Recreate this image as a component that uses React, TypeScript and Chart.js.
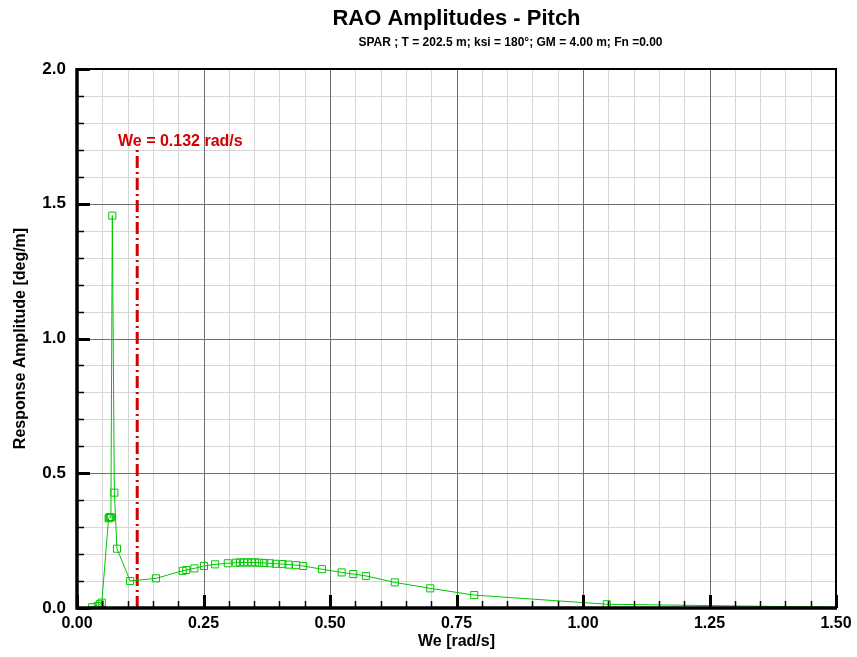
import React, { useEffect, useRef } from "react";
import { Chart, registerables } from "chart.js";

Chart.register(...registerables);

const FONT = '"Liberation Sans", Arial, Helvetica, sans-serif';

const titleText = "RAO Amplitudes - Pitch";
const subtitleText = "SPAR ; T = 202.5 m; ksi = 180°; GM = 4.00 m; Fn =0.00";
const xAxisTitle = "We [rad/s]";
const yAxisTitle = "Response Amplitude [deg/m]";

// Encounter frequency [rad/s]
const omega = [
  0.030, 0.041, 0.045, 0.049, 0.0625, 0.064, 0.0655, 0.067, 0.0698, 0.0738,
  0.079, 0.105, 0.156, 0.209, 0.216, 0.232, 0.251, 0.273, 0.298, 0.314,
  0.322, 0.330, 0.337, 0.345, 0.352, 0.360, 0.370, 0.381, 0.393, 0.406,
  0.418, 0.433, 0.447, 0.484, 0.523, 0.546, 0.571, 0.628, 0.698, 0.785,
  1.047, 1.571,
];
// Pitch RAO amplitude [deg/m]
const amplitude = [
  0.003, 0.007, 0.014, 0.020, 0.333, 0.336, 0.337, 0.336, 1.456, 0.428,
  0.220, 0.100, 0.110, 0.138, 0.141, 0.147, 0.156, 0.162, 0.166, 0.168,
  0.169, 0.169, 0.169, 0.169, 0.169, 0.168, 0.167, 0.166, 0.164, 0.163,
  0.161, 0.159, 0.156, 0.144, 0.132, 0.126, 0.119, 0.095, 0.073, 0.048,
  0.014, 0.001,
];

const xMajorTicks = [0, 0.25, 0.5, 0.75, 1.0, 1.25, 1.5];
const yMajorTicks = [0, 0.5, 1.0, 1.5, 2.0];
const xMinorStep = 0.05;
const yMinorStep = 0.1;

const markerLineX = 0.119;
const markerLineTop = 1.71;
const markerText = "We = 0.132 rad/s";
const markerTextX = 0.081;
const markerTextY = 1.73;

const X_MIN = 0, X_MAX = 1.5, Y_MIN = 0, Y_MAX = 2.0;

function minorValues(min: number, max: number, step: number, majors: number[]) {
  const out: number[] = [];
  const n = Math.round((max - min) / step);
  for (let i = 1; i < n; i++) {
    const v = +(min + i * step).toFixed(4);
    if (!majors.some((m) => Math.abs(m - v) < 1e-6)) out.push(v);
  }
  return out;
}

const framePlugin = {
  id: "raoFrame",
  beforeDatasetsDraw(chart: any) {
    const { ctx, chartArea: a, scales } = chart;
    const xs = scales.x, ys = scales.y;
    ctx.save();
    ctx.lineWidth = 1;
    ctx.strokeStyle = "#d6d6d6";
    ctx.beginPath();
    for (const v of minorValues(X_MIN, X_MAX, xMinorStep, xMajorTicks)) {
      const p = Math.round(xs.getPixelForValue(v)) + 0.5;
      ctx.moveTo(p, a.top); ctx.lineTo(p, a.bottom);
    }
    for (const v of minorValues(Y_MIN, Y_MAX, yMinorStep, yMajorTicks)) {
      const p = Math.round(ys.getPixelForValue(v)) + 0.5;
      ctx.moveTo(a.left, p); ctx.lineTo(a.right, p);
    }
    ctx.stroke();
    ctx.strokeStyle = "#6e6e6e";
    ctx.beginPath();
    for (const v of xMajorTicks) {
      const p = Math.round(xs.getPixelForValue(v)) + 0.5;
      ctx.moveTo(p, a.top); ctx.lineTo(p, a.bottom);
    }
    for (const v of yMajorTicks) {
      const p = Math.round(ys.getPixelForValue(v)) + 0.5;
      ctx.moveTo(a.left, p); ctx.lineTo(a.right, p);
    }
    ctx.stroke();
    ctx.restore();
  },
  afterDatasetsDraw(chart: any) {
    const { ctx, chartArea: a, scales } = chart;
    const xs = scales.x, ys = scales.y;
    ctx.save();
    // inward ticks
    ctx.strokeStyle = "#000";
    ctx.lineWidth = 1.5;
    ctx.beginPath();
    for (const v of minorValues(X_MIN, X_MAX, xMinorStep, xMajorTicks)) {
      const p = Math.round(xs.getPixelForValue(v)) + 0.5;
      ctx.moveTo(p, a.bottom); ctx.lineTo(p, a.bottom - 7);
    }
    for (const v of minorValues(Y_MIN, Y_MAX, yMinorStep, yMajorTicks)) {
      const p = Math.round(ys.getPixelForValue(v)) + 0.5;
      ctx.moveTo(a.left, p); ctx.lineTo(a.left + 7, p);
    }
    ctx.stroke();
    ctx.lineWidth = 3;
    ctx.beginPath();
    for (const v of xMajorTicks) {
      const p = Math.round(xs.getPixelForValue(v)) + 0.5;
      ctx.moveTo(p, a.bottom); ctx.lineTo(p, a.bottom - 13);
    }
    for (const v of yMajorTicks) {
      const p = Math.round(ys.getPixelForValue(v)) + 0.5;
      ctx.moveTo(a.left, p); ctx.lineTo(a.left + 13, p);
    }
    ctx.stroke();
    // frame
    ctx.lineWidth = 2;
    ctx.strokeRect(a.left, a.top, a.right - a.left, a.bottom - a.top);
    ctx.lineWidth = 3.5;
    ctx.beginPath();
    ctx.moveTo(a.left, a.top - 1);
    ctx.lineTo(a.left, a.bottom);
    ctx.lineTo(a.right + 1, a.bottom);
    ctx.stroke();
    // marker label
    ctx.fillStyle = "#d40000";
    ctx.font = `bold 16px ${FONT}`;
    ctx.textAlign = "left";
    ctx.textBaseline = "middle";
    ctx.fillText(markerText, xs.getPixelForValue(markerTextX), ys.getPixelForValue(markerTextY));
    ctx.restore();
  },
  afterDraw(chart: any) {
    const { ctx, chartArea: a } = chart;
    const cx = (a.left + a.right) / 2;
    ctx.save();
    ctx.fillStyle = "#000";
    ctx.textAlign = "center";
    ctx.textBaseline = "middle";
    ctx.font = `bold 22px ${FONT}`;
    ctx.fillText(titleText, cx, 19);
    ctx.font = `bold 12px ${FONT}`;
    ctx.fillText(subtitleText, cx + 54, 43);
    ctx.restore();
  },
};

export default function App() {
  const ref = useRef<HTMLCanvasElement>(null);
  useEffect(() => {
    const points = omega.map((w, i) => ({ x: w, y: amplitude[i] }));
    const chart = new Chart(ref.current as HTMLCanvasElement, {
      type: "line",
      data: {
        datasets: [
          {
            data: points as any,
            borderColor: "#00c800",
            borderWidth: 1,
            pointStyle: "rect",
            pointRadius: 5,
            pointBorderWidth: 1,
            pointBorderColor: "#00c800",
            pointBackgroundColor: "rgba(0,0,0,0)",
            tension: 0,
          },
          {
            data: [
              { x: markerLineX, y: Y_MIN },
              { x: markerLineX, y: markerLineTop },
            ] as any,
            borderColor: "#d40000",
            borderWidth: 3,
            borderDash: [12, 4, 2, 4],
            pointRadius: 0,
          },
        ],
      },
      options: {
        responsive: false,
        animation: false,
        layout: { padding: { left: 0, right: 21, top: 69, bottom: 0 } },
        plugins: { legend: { display: false }, tooltip: { enabled: false }, title: { display: false } },
        scales: {
          x: {
            type: "linear",
            min: X_MIN,
            max: X_MAX,
            afterFit: (s: any) => { s.height = 49; },
            grid: { display: false },
            border: { display: false },
            ticks: {
              stepSize: 0.25,
              autoSkip: false,
              maxRotation: 0,
              padding: -2,
              color: "#000",
              font: { family: FONT, size: 16, weight: "bold" },
              callback: (v: any) => Number(v).toFixed(2),
            },
            title: {
              display: true,
              text: xAxisTitle,
              color: "#000",
              font: { family: FONT, size: 16, weight: "bold" },
              padding: { top: 0, bottom: 6 },
            },
          },
          y: {
            type: "linear",
            min: Y_MIN,
            max: Y_MAX,
            afterFit: (s: any) => { s.width = 77; },
            grid: { display: false },
            border: { display: false },
            ticks: {
              stepSize: 0.5,
              padding: 3,
              color: "#000",
              font: { family: FONT, size: 17, weight: "bold" },
              callback: (v: any) => Number(v).toFixed(1),
            },
            title: {
              display: true,
              text: yAxisTitle,
              color: "#000",
              font: { family: FONT, size: 16, weight: "bold" },
              padding: { top: 11, bottom: 0 },
            },
          },
        },
      } as any,
      plugins: [framePlugin],
    });
    return () => chart.destroy();
  }, []);
  return (
    <div style={{ position: "absolute", left: 0, top: 0, width: 857, height: 657, background: "#fff" }}>
      <canvas ref={ref} width={857} height={657} style={{ display: "block", width: 857, height: 657 }} />
    </div>
  );
}
